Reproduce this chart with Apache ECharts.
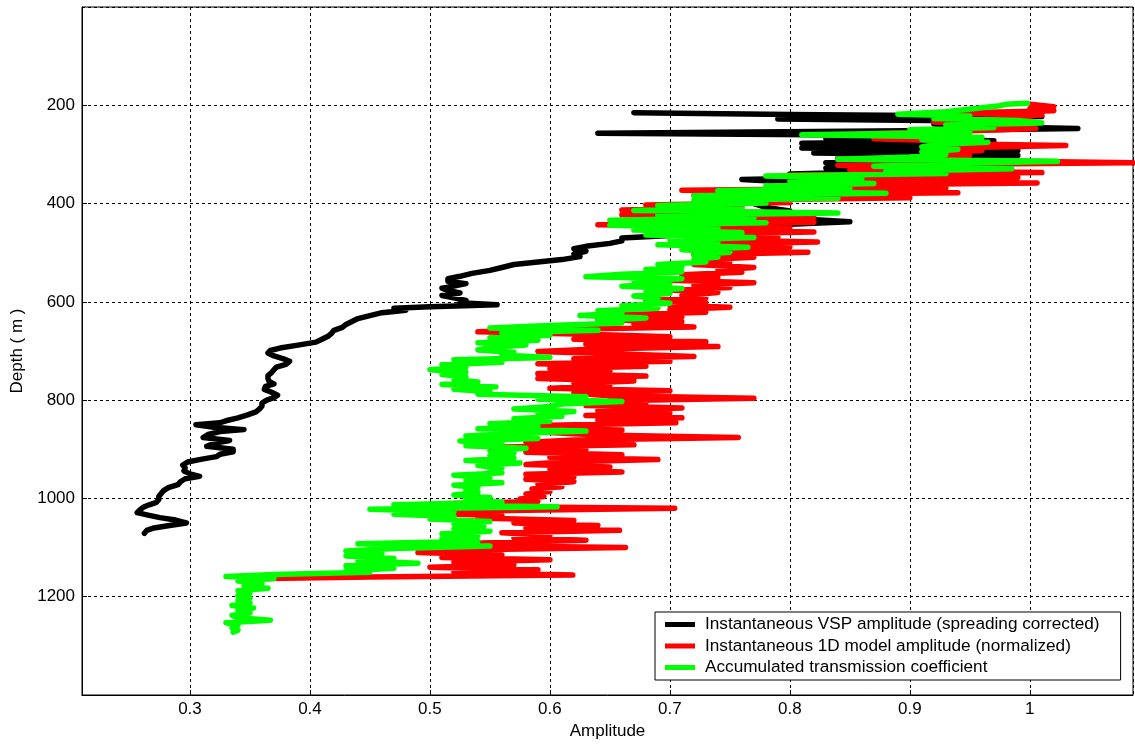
<!DOCTYPE html>
<html>
<head>
<meta charset="utf-8">
<title>Amplitude versus depth</title>
<script src="https://cdn.jsdelivr.net/npm/echarts@6/dist/echarts.min.js"></script>
<style>
  html, body { margin: 0; padding: 0; background: #fff; }
  #chart { width: 1135px; height: 745px; }
</style>
</head>
<body>
<div id="chart"></div>
<script>
// Series names
const seriesNames = [
  'Instantaneous VSP amplitude (spreading corrected)',
  'Instantaneous 1D model amplitude (normalized)',
  'Accumulated transmission coefficient'
];

// [depth (m), amplitude] — measured VSP amplitude, spreading corrected
const vspProfile = [
  [215,0.67],[219,0.80],[223,1.01],[228,0.79],[233,1.00],[238,0.92],[243,0.96],[247,1.04],
  [252,0.90],[257,0.64],[262,0.94],[267,0.83],[272,0.97],[277,0.81],[282,0.98],[287,0.81],
  [292,0.99],[297,0.82],[302,0.99],[307,0.84],[312,0.92],[317,0.83],[322,0.90],[328,0.83],
  [334,0.89],[340,0.80],[346,0.86],[351,0.76],[356,0.80],[362,0.82],[370,0.80],[378,0.80],
  [386,0.79],[394,0.78],[400,0.77],[408,0.78],[415,0.80],[422,0.77],[430,0.80],[437,0.85],
  [443,0.79],[450,0.76],[458,0.73],[465,0.70],[470,0.66],[476,0.66],[481,0.65],[487,0.63],
  [492,0.62],[497,0.63],[503,0.62],[508,0.625],[514,0.61],[519,0.59],[524,0.57],[530,0.56],
  [536,0.55],[542,0.535],[548,0.525],[553,0.515],[558,0.515],[563,0.53],[568,0.52],[572,0.51],
  [577,0.515],[582,0.525],[587,0.51],[592,0.52],[597,0.53],[602,0.525],[606,0.556],[610,0.50],
  [613,0.47],[617,0.48],[622,0.46],[628,0.45],[634,0.44],[640,0.435],[646,0.43],[652,0.427],
  [658,0.42],[664,0.418],[670,0.415],[676,0.41],[682,0.405],[688,0.39],[694,0.375],[699,0.367],
  [704,0.365],[710,0.37],[716,0.378],[721,0.383],[727,0.38],[733,0.372],[738,0.37],[744,0.368],
  [750,0.365],[756,0.365],[762,0.366],[767,0.37],[772,0.363],[778,0.362],[784,0.368],[790,0.373],
  [795,0.37],[800,0.364],[806,0.36],[812,0.36],[818,0.358],[824,0.355],[830,0.348],[836,0.34],
  [842,0.33],[846,0.325],[850,0.305],[855,0.32],[860,0.345],[864,0.325],[870,0.315],[876,0.311],
  [882,0.333],[888,0.32],[894,0.314],[900,0.336],[905,0.336],[910,0.325],[915,0.322],[920,0.31],
  [926,0.298],[932,0.294],[938,0.296],[944,0.295],[950,0.30],[955,0.308],[960,0.296],[966,0.292],
  [972,0.29],[978,0.282],[984,0.278],[990,0.276],[996,0.274],[1002,0.274],[1008,0.272],[1013,0.266],
  [1018,0.261],[1024,0.258],[1029,0.256],[1034,0.265],[1039,0.275],[1044,0.288],[1050,0.297],[1055,0.283],
  [1060,0.27],[1065,0.264],[1071,0.262]
];

// [depth (m), amplitude] — 1D model amplitude, normalized
const modelProfile = [
  [198,1.00],[203,1.02],[207,1.00],[211,1.02],[216,0.93],[220,1.01],[225,0.97],[229,1.00],
  [234,0.92],[238,0.95],[243,0.93],[247,1.005],[252,0.95],[258,0.86],[263,0.92],[268,0.87],
  [273,0.94],[278,0.92],[282,1.03],[287,0.93],[292,0.96],[297,0.92],[302,0.95],[307,0.89],
  [312,0.93],[317,1.086],[322,0.84],[327,0.93],[332,0.85],[337,1.01],[342,0.80],[347,0.99],
  [352,0.81],[358,1.006],[363,0.80],[368,0.93],[373,0.71],[378,0.94],[383,0.72],[388,0.90],
  [393,0.74],[398,0.80],[403,0.68],[408,0.76],[413,0.66],[418,0.80],[423,0.66],[428,0.82],
  [433,0.69],[438,0.82],[443,0.64],[448,0.80],[453,0.69],[458,0.82],[463,0.70],[468,0.79],
  [473,0.72],[478,0.823],[483,0.73],[488,0.80],[494,0.73],[499,0.815],[504,0.72],[509,0.77],
  [514,0.73],[519,0.75],[524,0.72],[530,0.77],[535,0.74],[540,0.76],[545,0.71],[550,0.74],
  [556,0.70],[561,0.77],[566,0.72],[571,0.75],[576,0.70],[581,0.74],[587,0.71],[592,0.73],
  [597,0.68],[602,0.73],[607,0.70],[611,0.75],[616,0.70],[621,0.73],[626,0.66],[631,0.71],
  [636,0.64],[641,0.71],[646,0.67],[651,0.72],[656,0.60],[661,0.54],[666,0.63],[671,0.70],
  [676,0.62],[681,0.73],[686,0.63],[691,0.74],[696,0.64],[701,0.59],[706,0.66],[711,0.72],
  [716,0.62],[721,0.70],[726,0.59],[731,0.68],[736,0.60],[741,0.65],[746,0.59],[751,0.68],
  [756,0.59],[761,0.67],[766,0.62],[771,0.65],[776,0.60],[781,0.70],[786,0.62],[791,0.65],
  [796,0.77],[801,0.65],[806,0.68],[811,0.63],[816,0.71],[821,0.64],[826,0.70],[831,0.63],
  [836,0.71],[841,0.64],[846,0.705],[851,0.60],[856,0.56],[861,0.66],[866,0.60],[871,0.64],
  [876,0.757],[881,0.62],[886,0.58],[891,0.67],[896,0.55],[901,0.63],[906,0.58],[911,0.66],
  [916,0.60],[921,0.69],[926,0.61],[931,0.58],[936,0.65],[941,0.60],[946,0.66],[951,0.58],
  [956,0.62],[961,0.58],[966,0.62],[971,0.59],[976,0.61],[981,0.585],[986,0.60],[991,0.58],
  [996,0.595],[1001,0.575],[1006,0.59],[1011,0.51],[1016,0.50],[1020,0.704],[1025,0.55],[1030,0.50],
  [1035,0.56],[1040,0.54],[1045,0.62],[1050,0.57],[1055,0.64],[1060,0.58],[1065,0.658],[1070,0.56],
  [1075,0.60],[1080,0.57],[1085,0.63],[1090,0.55],[1095,0.49],[1100,0.663],[1105,0.52],[1110,0.49],
  [1115,0.56],[1120,0.51],[1125,0.60],[1130,0.52],[1135,0.57],[1140,0.50],[1145,0.59],[1150,0.52],
  [1156,0.619],[1160,0.45],[1163,0.364]
];

// [depth (m), amplitude] — accumulated transmission coefficient
const transmissionProfile = [
  [196,0.998],[198,0.98],[201,0.975],[205,0.96],[209,0.945],[213,0.93],[218,0.89],[222,0.95],
  [227,0.92],[231,0.99],[236,1.01],[240,0.93],[245,0.97],[250,0.90],[255,0.95],[260,0.81],
  [265,0.96],[270,0.91],[275,0.965],[280,0.92],[285,0.91],[290,0.94],[295,0.91],[300,0.93],
  [305,0.90],[310,0.84],[314,1.023],[319,0.93],[324,0.87],[329,0.985],[334,0.88],[339,0.93],
  [344,0.78],[349,0.86],[354,0.80],[359,0.87],[364,0.78],[369,0.85],[374,0.74],[379,0.88],
  [384,0.72],[389,0.84],[394,0.72],[399,0.78],[404,0.69],[409,0.76],[414,0.67],[419,0.84],
  [424,0.69],[429,0.77],[434,0.65],[439,0.78],[444,0.65],[449,0.74],[454,0.67],[459,0.76],
  [464,0.68],[469,0.77],[474,0.70],[479,0.74],[484,0.69],[489,0.765],[494,0.71],[499,0.75],
  [504,0.72],[509,0.74],[514,0.72],[519,0.73],[524,0.69],[529,0.71],[534,0.68],[539,0.71],
  [544,0.66],[549,0.63],[553,0.71],[558,0.67],[563,0.70],[568,0.66],[573,0.71],[578,0.68],
  [583,0.70],[588,0.67],[593,0.69],[598,0.68],[603,0.70],[608,0.66],[613,0.69],[618,0.64],
  [623,0.66],[628,0.625],[633,0.68],[638,0.64],[643,0.66],[648,0.60],[653,0.55],[658,0.64],
  [663,0.56],[668,0.60],[673,0.55],[678,0.59],[683,0.54],[688,0.58],[693,0.55],[698,0.54],
  [703,0.57],[708,0.56],[713,0.60],[718,0.52],[723,0.56],[728,0.51],[733,0.53],[738,0.50],
  [743,0.53],[748,0.51],[753,0.53],[758,0.52],[763,0.54],[768,0.51],[773,0.555],[778,0.52],
  [783,0.55],[788,0.54],[793,0.63],[798,0.59],[803,0.66],[808,0.61],[813,0.60],[818,0.57],
  [823,0.62],[828,0.59],[833,0.61],[838,0.57],[843,0.60],[848,0.55],[853,0.59],[858,0.54],
  [863,0.63],[868,0.57],[873,0.53],[878,0.59],[883,0.525],[888,0.56],[893,0.53],[898,0.58],
  [903,0.55],[908,0.57],[913,0.55],[918,0.57],[923,0.53],[928,0.575],[933,0.54],[938,0.56],
  [943,0.55],[948,0.56],[953,0.52],[958,0.55],[963,0.53],[968,0.56],[973,0.52],[978,0.54],
  [983,0.53],[988,0.54],[993,0.52],[998,0.55],[1003,0.53],[1008,0.56],[1013,0.47],[1017,0.606],
  [1022,0.45],[1027,0.52],[1032,0.47],[1037,0.52],[1042,0.50],[1047,0.55],[1052,0.52],[1057,0.545],
  [1062,0.52],[1067,0.55],[1072,0.51],[1077,0.54],[1082,0.51],[1087,0.54],[1092,0.44],[1097,0.55],
  [1102,0.47],[1107,0.43],[1112,0.46],[1117,0.43],[1122,0.47],[1127,0.44],[1132,0.49],[1137,0.43],
  [1142,0.47],[1147,0.43],[1150,0.45],[1155,0.37],[1159,0.33],[1163,0.37],[1168,0.34],[1173,0.36],
  [1178,0.345],[1183,0.365],[1188,0.34],[1193,0.35],[1198,0.34],[1203,0.35],[1208,0.34],[1213,0.35],
  [1218,0.335],[1223,0.353],[1228,0.34],[1233,0.35],[1238,0.335],[1243,0.34],[1248,0.367],[1253,0.33],
  [1258,0.34],[1263,0.335],[1268,0.34],[1272,0.336]
];

const seriesColors = ['#000000', '#ff0000', '#00ff00'];
const profiles = [vspProfile, modelProfile, transmissionProfile];

const FONT = '"Liberation Sans", Arial, Helvetica, sans-serif';
const gridLine = { show: true, lineStyle: { color: '#000', width: 1, type: [3, 3] } };

const chart = echarts.init(document.getElementById('chart'), null, { renderer: 'canvas' });

chart.setOption({
  animation: false,
  backgroundColor: '#fff',
  grid: {
    left: 82, right: 2, top: 7, bottom: 50,
    containLabel: false,
    outerBoundsMode: 'none',
    show: true, borderColor: '#000', borderWidth: 1, backgroundColor: '#fff'
  },
  legend: {
    orient: 'vertical',
    left: 655, top: 612,
    padding: [4, 21, 4, 10],
    itemGap: 4.5,
    itemWidth: 30, itemHeight: 5,
    icon: 'rect',
    backgroundColor: '#fff',
    borderColor: '#000', borderWidth: 1,
    textStyle: { fontFamily: FONT, fontSize: 17.2, color: '#000', padding: [0, 0, 0, 5] },
    data: seriesNames
  },
  xAxis: {
    type: 'value',
    min: 0.21, max: 1.086,
    minInterval: 0.1, maxInterval: 0.1, splitNumber: 9,
    name: 'Amplitude', nameLocation: 'middle', nameGap: 27,
    nameTextStyle: { fontFamily: FONT, fontSize: 17, color: '#000' },
    axisLine: { show: true, onZero: false, lineStyle: { color: '#000', width: 1 } },
    axisTick: { show: true, inside: true, length: 5, lineStyle: { color: '#000' } },
    axisLabel: { showMinLabel: false, showMaxLabel: false, margin: 6, fontFamily: FONT, fontSize: 17, color: '#000' },
    splitLine: gridLine
  },
  yAxis: {
    type: 'value',
    inverse: true,
    min: 0, max: 1400, interval: 200,
    name: 'Depth ( m )', nameLocation: 'middle', nameGap: 54,
    nameTextStyle: { fontFamily: FONT, fontSize: 17, color: '#000' },
    axisLine: { show: true, onZero: false, lineStyle: { color: '#000', width: 1 } },
    axisTick: { show: true, inside: true, length: 5, lineStyle: { color: '#000' } },
    axisLabel: {
      showMinLabel: false, showMaxLabel: false, margin: 7,
      fontFamily: FONT, fontSize: 17, color: '#000',
      formatter: (v) => String(v)
    },
    splitLine: gridLine
  },
  series: profiles.map((profile, i) => ({
    name: seriesNames[i],
    type: 'line',
    data: profile.map(([depth, amp]) => [amp, depth]),
    showSymbol: false,
    symbol: 'none',
    clip: true,
    itemStyle: { color: seriesColors[i] },
    lineStyle: { color: seriesColors[i], width: 5.5, cap: 'round', join: 'round' }
  }))
});
</script>
</body>
</html>
